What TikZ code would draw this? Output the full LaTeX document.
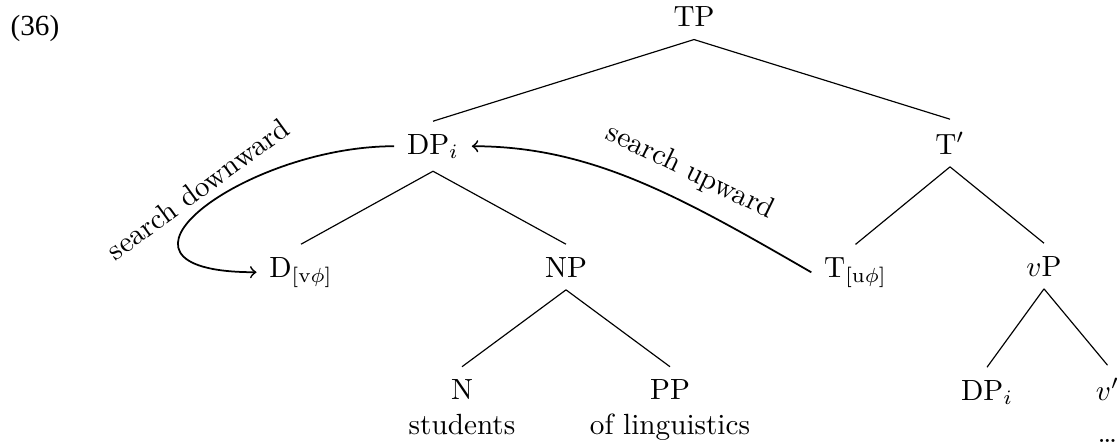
\documentclass[tikz,border=0pt]{standalone}
\usepackage{fontspec}
\newfontfamily\exfont{Liberation Serif}
\begin{document}
\begin{tikzpicture}[x=0.3425pt,y=-0.3425pt,
  lab/.style={anchor=base,inner sep=4.2pt},
  branch/.style={line width=0.4pt},
  search/.style={->,line width=0.6pt},
  note/.style={inner sep=0pt}]
\useasboundingbox (0,0) rectangle (1119,443);
\node[anchor=base west,inner sep=0pt] (ex) at (10,35) {\exfont (36)};
\node[lab] (TP) at (694,26.7) {TP};
\node[lab] (DP) at (433,154) {DP$_i$};
\node[lab] (Tbar) at (950,154) {T$'$};
\node[lab] (D) at (301,277) {D$_{[\mathrm{v}\phi]}$};
\node[lab] (NP) at (566,277) {NP};
\node[lab] (T) at (855.5,277) {T$_{[\mathrm{u}\phi]}$};
\node[lab] (vP) at (1044,276) {$v$P};
\node[lab] (N) at (462,399.5) {N};
\node[lab] (Nw) at (462,434) {students};
\node[lab] (PP) at (670,399.5) {PP};
\node[lab] (PPw) at (670,434) {of linguistics};
\node[lab] (DP2) at (987,400) {DP$_i$};
\node[lab] (vbar) at (1107.5,400) {$v'$};
\node[lab] (vdots) at (1107.5,442) {\dots};
\draw[branch] (TP.south) -- (DP.north);
\draw[branch] (TP.south) -- (Tbar.north);
\draw[branch] (DP.south) -- (D.north);
\draw[branch] (DP.south) -- (NP.north);
\draw[branch] (Tbar.south) -- (T.north);
\draw[branch] (Tbar.south) -- (vP.north);
\draw[branch] (NP.south) -- (N.north);
\draw[branch] (NP.south) -- (PP.north);
\draw[branch] (vP.south) -- (DP2.north);
\draw[branch] (vP.south) -- (vbar.north);
\draw[search] (DP.west) .. controls +(-150,0) and +(-180,0) .. (D.west);
\draw[search] (T.west) .. controls +(-130,-75) and +(120,0) .. (DP.east);
\node[note,rotate=36] (sd) at (198,189) {search downward};
\node[note,rotate=-26] (su) at (690,172) {search upward};
\end{tikzpicture}
\end{document}
